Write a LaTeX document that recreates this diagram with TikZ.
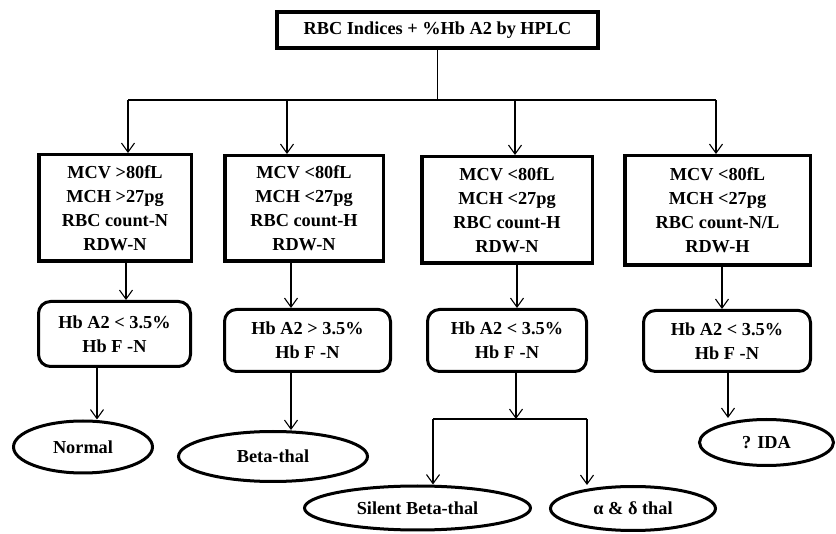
\documentclass[tikz,border=0pt]{standalone}
\usepackage{fontspec}
\setmainfont{Liberation Serif}
\usetikzlibrary{arrows.meta,shapes.geometric}
\begin{document}
\begin{tikzpicture}[x=1pt,y=-1pt,
  font=\bfseries\fontsize{18.3}{24}\selectfont,
  conn/.style={line width=1.1pt},
  arr/.style={conn,-{Straight Barb[length=9pt,width=13pt]}},
  topbox/.style={draw,line width=4pt,inner sep=0pt,align=center},
  rectbox/.style={draw,line width=3.5pt,inner sep=0pt,align=center},
  hbbox/.style={draw,line width=3pt,rounded corners=12pt,inner sep=0pt,align=center},
  outc/.style={draw,ellipse,line width=3pt,inner sep=0pt,align=center}]
\useasboundingbox (0,0) rectangle (836,534);

\node[topbox,minimum width=321pt,minimum height=36pt] (top) at (437.5,30) {RBC Indices + \%Hb A2 by HPLC};

\node[rectbox,minimum width=152.5pt,minimum height=106.5pt] (B1) at (115,208) {MCV >80fL\\MCH >27pg\\RBC count-N\\RDW-N};
\node[rectbox,minimum width=158.5pt,minimum height=105.5pt] (B2) at (304,208.5) {MCV <80fL\\MCH <27pg\\RBC count-H\\RDW-N};
\node[rectbox,minimum width=170.5pt,minimum height=106.5pt] (B3) at (507,210) {MCV <80fL\\MCH <27pg\\RBC count-H\\RDW-N};
\node[rectbox,minimum width=185.5pt,minimum height=109.5pt] (B4) at (717.5,210.5) {MCV <80fL\\MCH <27pg\\RBC count-N/L\\RDW-H};

\node[hbbox,minimum width=152pt,minimum height=65pt] (H1) at (114.5,334) {Hb A2 < 3.5\%\\Hb F -N};
\node[hbbox,minimum width=166pt,minimum height=62pt] (H2) at (307.5,340.5) {Hb A2 > 3.5\%\\Hb F -N};
\node[hbbox,minimum width=159pt,minimum height=62pt] (H3) at (507,340.5) {Hb A2 < 3.5\%\\Hb F -N};
\node[hbbox,minimum width=167pt,minimum height=61pt] (H4) at (727,341) {Hb A2 < 3.5\%\\Hb F -N};

\node[outc,minimum width=139pt,minimum height=52pt] (E1) at (83,447) {Normal};
\node[outc,minimum width=189pt,minimum height=50pt] (E2) at (273,456.5) {Beta-thal};
\node[outc,minimum width=226pt,minimum height=44pt] (E3) at (417.5,508) {Silent Beta-thal};
\node[outc,minimum width=165pt,minimum height=44pt] (E4) at (633,508.5) {α \& δ thal};
\node[outc,minimum width=134pt,minimum height=46pt] (E5) at (766.5,442.5) {? IDA};

% trunk
\coordinate (j0) at (437.5,100);
\coordinate (j1) at (128,100);
\coordinate (j2) at (287,100);
\coordinate (j3) at (515,100);
\coordinate (j4) at (716,100);
\draw[conn] (top.south) -- (j0);
\draw[conn] (j1) -- (j4);
\draw[arr] (j1) -- (j1 |- B1.north);
\draw[arr] (j2) -- (j2 |- B2.north);
\draw[arr] (j3) -- (j3 |- B3.north);
\draw[arr] (j4) -- (j4 |- B4.north);

% boxes to Hb boxes
\coordinate (c1) at (126,0);
\coordinate (c2) at (291,0);
\coordinate (c3) at (517,0);
\coordinate (c4) at (722,0);
\draw[arr] (c1 |- B1.south) -- (c1 |- H1.north);
\draw[arr] (c2 |- B2.south) -- (c2 |- H2.north);
\draw[arr] (c3 |- B3.south) -- (c3 |- H3.north);
\draw[arr] (c4 |- B4.south) -- (c4 |- H4.north);

% Hb boxes to outcomes
\coordinate (d1) at (97,0);
\coordinate (d2) at (291,0);
\coordinate (d4) at (728,0);
\draw[arr] (d1 |- H1.south) -- (d1 |- E1.north);
\draw[arr] (d2 |- H2.south) -- (d2 |- E2.north);
\draw[arr] (d4 |- H4.south) -- (d4 |- E5.north);

\coordinate (k0) at (516,419);
\coordinate (k1) at (433,419);
\coordinate (k2) at (587,419);
\draw[arr] (k0 |- H3.south) -- (k0);
\draw[conn] (k1) -- (k2);
\draw[arr] (k1) -- (k1 |- E3.north);
\draw[arr] (k2) -- (k2 |- E4.north);
\end{tikzpicture}
\end{document}
